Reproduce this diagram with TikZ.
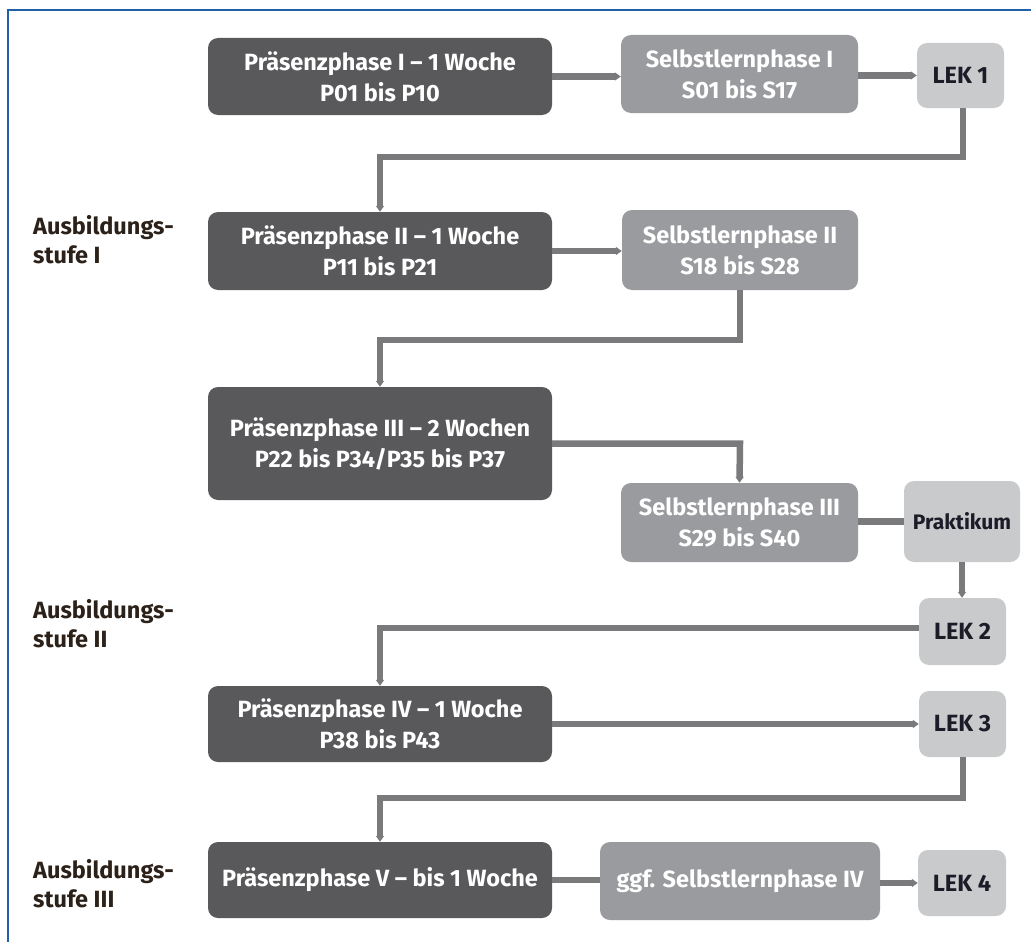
\documentclass[tikz,border=0pt]{standalone}
\usepackage{fontspec}
\setmainfont{Fira Sans}
\usetikzlibrary{arrows.meta}
\definecolor{darkbox}{HTML}{59595B}
\definecolor{midbox}{HTML}{9A9B9E}
\definecolor{lightbox}{HTML}{C9CACC}
\definecolor{conn}{HTML}{7A7A7C}
\definecolor{frameblue}{HTML}{2060A8}
\definecolor{labeltext}{HTML}{2B2118}
\definecolor{darktext}{HTML}{1C1C28}
\tikzset{
  box/.style={rounded corners=10pt, inner sep=0pt, align=center,
    font=\fontsize{23.5}{31}\selectfont\bfseries},
  pbox/.style={box, fill=darkbox, text=white, minimum width=344pt},
  sbox/.style={box, fill=midbox, text=white},
  lbox/.style={box, fill=lightbox, text=darktext},
  stage/.style={anchor=north west, inner sep=0pt, align=left, text=labeltext,
    font=\fontsize{23.5}{29}\selectfont\bfseries},
  link/.style={draw=conn, line width=6.5pt},
  arr/.style={link, -{Triangle[width=8pt,length=6pt]}}
}
\begin{document}
\begin{tikzpicture}[x=1pt,y=-1pt]
\useasboundingbox (0,0) rectangle (1031,942);
\draw[frameblue, line width=2.5pt] (8,942) -- (8,10) -- (1031,10);

% nodes
\node[pbox, minimum height=77pt] (p1) at (380,76.5) {Präsenzphase I – 1 Woche\\P01 bis P10};
\node[sbox, minimum width=237pt, minimum height=78pt] (s1) at (739.5,74) {Selbstlernphase I\\S01 bis S17};
\node[lbox, minimum width=87pt, minimum height=65pt] (l1) at (960.5,75.5) {LEK 1};

\node[pbox, minimum height=78pt] (p2) at (380,251) {Präsenzphase II – 1 Woche\\P11 bis P21};
\node[sbox, minimum width=236pt, minimum height=80pt] (s2) at (740,250) {Selbstlernphase II\\S18 bis S28};

\node[pbox, minimum height=113pt] (p3) at (380,443.5) {Präsenzphase III – 2 Wochen\\P22 bis P34/P35 bis P37};
\node[sbox, minimum width=237pt, minimum height=79pt] (s3) at (739.5,522.5) {Selbstlernphase III\\S29 bis S40};
\node[lbox, minimum width=116pt, minimum height=81pt, font=\fontsize{21}{29}\selectfont\bfseries] (pr) at (962,521.5) {Praktikum};
\node[lbox, minimum width=87pt, minimum height=67pt] (l2) at (962.5,631.5) {LEK 2};

\node[pbox, minimum height=76pt] (p4) at (380,724) {Präsenzphase IV – 1 Woche\\P38 bis P43};
\node[lbox, minimum width=87pt, minimum height=66pt] (l3) at (962.5,724) {LEK 3};

\node[pbox, minimum height=76pt] (p5) at (380,880) {Präsenzphase V – bis 1 Woche};
\node[sbox, minimum width=280pt, minimum height=78pt] (s4) at (740,881) {ggf. Selbstlernphase IV};
\node[lbox, minimum width=88pt, minimum height=66pt] (l4) at (962,883) {LEK 4};

\node[stage] (st1) at (33,215) {Ausbildungs-\\stufe I};
\node[stage] (st2) at (33,599) {Ausbildungs-\\stufe II};
\node[stage] (st3) at (33,859) {Ausbildungs-\\stufe III};

% connectors
\coordinate (c1) at (963,157);
\coordinate (c2) at (380,157);
\coordinate (c3) at (740,340);
\coordinate (c4) at (380,340);
\coordinate (c5) at (740,443.5);
\coordinate (c6) at (380,628);
\coordinate (c7) at (963,798);
\coordinate (c8) at (380,798);

\draw[arr] (p1.east) -- (s1.west |- p1.east);
\draw[arr] (s1.east |- l1.west) -- (l1.west);
\draw[arr] (l1.south -| c1) -- (c1) -- (c2) -- (p2.north);
\draw[arr] (p2.east) -- (s2.west |- p2.east);
\draw[arr] (s2.south) -- (c3) -- (c4) -- (p3.north);
\draw[arr] (p3.east) -- (c5) -- (s3.north);
\draw[link] (s3.east |- pr.west) -- (pr.west);
\draw[arr] (pr.south) -- (l2.north -| pr.south);
\draw[arr] (l2.west |- c6) -- (c6) -- (p4.north);
\draw[arr] (p4.east) -- (l3.west);
\draw[arr] (l3.south -| c7) -- (c7) -- (c8) -- (p5.north);
\draw[link] (p5.east) -- (s4.west |- p5.east);
\draw[arr] (s4.east |- l4.west) -- (l4.west);
\end{tikzpicture}
\end{document}
